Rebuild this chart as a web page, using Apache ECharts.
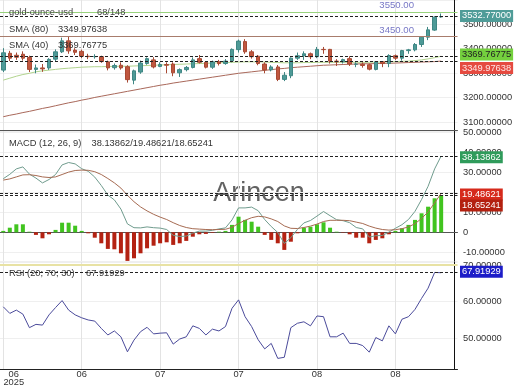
<!DOCTYPE html>
<html><head><meta charset="utf-8">
<script src="https://cdn.jsdelivr.net/npm/echarts@6/dist/echarts.min.js"></script>
<style>html,body{margin:0;padding:0;background:#fff}#c{width:520px;height:390px}</style>
</head><body><div id="c"></div>
<script>
// ---------------- DATA ----------------
const dates = ['2025-06-02','2025-06-03','2025-06-04','2025-06-05','2025-06-06',
'2025-06-09','2025-06-10','2025-06-11','2025-06-12','2025-06-13',
'2025-06-16','2025-06-17','2025-06-18','2025-06-19','2025-06-20',
'2025-06-23','2025-06-24','2025-06-25','2025-06-26','2025-06-27','2025-06-30',
'2025-07-01','2025-07-02','2025-07-03','2025-07-04',
'2025-07-07','2025-07-08','2025-07-09','2025-07-10','2025-07-11',
'2025-07-14','2025-07-15','2025-07-16','2025-07-17','2025-07-18',
'2025-07-21','2025-07-22','2025-07-23','2025-07-24','2025-07-25',
'2025-07-28','2025-07-29','2025-07-30','2025-07-31','2025-08-01',
'2025-08-04','2025-08-05','2025-08-06','2025-08-07','2025-08-08',
'2025-08-11','2025-08-12','2025-08-13','2025-08-14','2025-08-15',
'2025-08-18','2025-08-19','2025-08-20','2025-08-21','2025-08-22',
'2025-08-25','2025-08-26','2025-08-27','2025-08-28','2025-08-29',
'2025-09-01','2025-09-02','2025-09-03'];
const xTickDates = ['2025-06-02','2025-06-18','2025-07-04','2025-07-22','2025-08-07','2025-08-25'];

const openP  = [3313,3382,3374,3378,3365,3316,3322,3322,3358,3388,3433,3395,3390,3370,3368,3368,3347,3323,3333,3327,3272,3305,3340,3355,3328,3336,3338,3302,3315,3324,3360,3345,3325,3347,3340,3351,3397,3430,3388,3370,3338,3314,3326,3275,3290,3362,3372,3380,3368,3398,3398,3350,3347,3360,3337,3337,3335,3316,3347,3340,3372,3362,3393,3396,3418,3448,3477,3531];
const highP  = [3403,3392,3385,3390,3372,3336,3338,3362,3398,3446,3451,3403,3397,3380,3378,3372,3352,3340,3345,3333,3315,3352,3365,3366,3345,3345,3345,3320,3330,3365,3375,3350,3352,3355,3358,3402,3438,3440,3395,3375,3345,3333,3334,3305,3365,3385,3390,3385,3408,3408,3400,3358,3360,3370,3345,3345,3340,3350,3350,3378,3377,3396,3400,3424,3452,3490,3534,3545];
const lowP   = [3305,3350,3355,3352,3305,3300,3306,3314,3350,3383,3380,3375,3362,3358,3360,3343,3312,3315,3315,3262,3255,3298,3335,3320,3325,3300,3288,3285,3308,3320,3340,3320,3318,3332,3335,3345,3385,3380,3360,3333,3300,3308,3268,3268,3280,3355,3355,3358,3362,3380,3340,3330,3340,3330,3325,3323,3312,3312,3325,3325,3355,3352,3380,3390,3408,3436,3474,3528];
const closeP = [3384,3362,3366,3362,3316,3322,3318,3357,3388,3433,3392,3386,3370,3368,3369,3348,3322,3332,3322,3274,3310,3342,3360,3326,3336,3333,3302,3315,3324,3355,3345,3325,3347,3340,3350,3398,3432,3388,3368,3340,3314,3326,3275,3292,3362,3372,3380,3368,3398,3397,3350,3347,3356,3338,3338,3332,3317,3347,3340,3373,3362,3393,3396,3418,3448,3478,3530,3532.77];

const sma40 = [3272,3280,3288,3295,3300,3306,3310,3313,3316,3319,3321,3323,3325,3326,3327,3327,3328,3328,3329,3329,3330,3331,3332,3333,3334,3335,3336,3337,3338,3339,3340,3341,3342,3343,3344,3345,3346,3347,3347,3347,3346,3345,3344,3343,3343,3343,3344,3344,3345,3345,3345,3345,3345,3345,3345,3345,3345,3346,3346,3347,3348,3349,3350,3352,3355,3359,3364,3369.76775];
const sma80 = [3122,3128,3133,3139,3144,3150,3156,3161,3167,3173,3179,3184,3190,3195,3201,3206,3211,3216,3221,3226,3231,3236,3241,3246,3251,3255,3260,3264,3268,3272,3276,3280,3284,3288,3292,3296,3300,3303,3306,3309,3312,3315,3318,3320,3323,3325,3327,3329,3331,3333,3334,3335,3336,3337,3338,3339,3339,3340,3341,3341,3342,3343,3344,3345,3346,3347,3348,3349.97638];

const histogram = [0.7,2.3,4.0,4.0,0.3,-1.3,-3.0,-1.0,1.2,4.8,4.8,3.3,0.7,-0.5,-2.7,-5.5,-8.3,-8.5,-10.5,-14.3,-13.0,-10.5,-8.0,-6.7,-5.5,-5.0,-6.3,-5.5,-4.3,-2.2,-1.0,-0.8,-0.3,0.3,0.7,3.7,7.8,6.2,5.3,2.8,-1.3,-3.8,-5.5,-8.8,-4.7,-0.5,2.3,2.8,4.0,5.0,2.3,0.3,-0.2,-1.0,-2.7,-2.7,-5.5,-3.8,-3.0,-1.0,0.7,2.0,3.7,6.2,9.5,12.8,17.0,18.65241];
const signalLine = [26.1,26.7,27.7,28.7,28.8,28.4,27.7,27.4,27.7,28.9,30.1,30.9,31.1,31.0,30.3,28.9,26.9,24.7,22.1,18.5,15.3,12.7,10.7,9.0,7.6,6.4,4.8,3.4,2.4,1.8,1.6,1.4,1.3,1.4,1.5,2.5,4.4,6.0,7.3,8.0,7.7,6.7,5.4,3.2,2.0,1.9,2.4,3.1,4.1,5.4,6.0,6.0,6.0,5.8,5.1,4.4,3.1,2.1,1.4,1.1,1.3,1.8,2.7,4.3,6.9,10.2,14.7,19.48621];
const macdLine = [26.8,29.0,31.7,32.7,29.1,27.1,24.7,26.4,28.9,33.7,34.9,34.2,31.8,30.5,27.6,23.4,18.6,16.2,11.6,4.2,2.3,2.2,2.7,2.3,2.1,1.4,-1.5,-2.1,-1.9,-0.4,0.6,0.6,1.0,1.7,2.2,6.2,12.2,12.2,12.6,10.8,6.4,2.9,-0.1,-5.6,-2.7,1.4,4.7,5.9,8.1,10.4,8.3,6.3,5.8,4.8,2.4,1.7,-2.4,-1.7,-1.6,0.1,2.0,3.8,6.4,10.5,16.4,23.0,31.7,38.13862];

const rsi = [58.6,56.8,57.7,56.6,52.9,53.8,53.6,56.4,58.4,60.3,57.7,56.4,55.6,55.0,54.7,52.7,50.9,52.0,50.4,46.3,49.5,51.8,53.0,51.2,51.4,51.5,48.4,49.8,50.4,53.4,52.7,50.9,52.5,52.0,53.2,58.2,60.5,55.9,53.2,49.6,47.1,48.6,44.5,44.8,52.9,54.1,54.5,53.4,56.1,55.9,50.4,50.4,51.4,48.6,48.6,48.0,46.2,50.2,49.3,53.4,51.2,55.2,55.9,57.9,60.9,63.7,68.0,67.91929];

const priceLevels = [3550, 3450];
const rsiLevels = [70];
const symbolName = 'gold-ounce-usd';
const barsInfo = '68/148';

// ---------------- CHART ----------------
const FONT = '"Liberation Sans", Arial, sans-serif';
const last = a => a[a.length - 1];
const cats = dates.concat(['', '']);
const candleData = dates.map((d, i) => [openP[i], closeP[i], lowP[i], highP[i]]);
const tickIdx = xTickDates.map(d => dates.indexOf(d));
const GW = 457.5;

const chart = echarts.init(document.getElementById('c'));

function xAx(g) {
  return {
    type: 'category', gridIndex: g, data: cats, boundaryGap: true,
    axisLine: { show: true, lineStyle: { color: g === 2 ? '#222' : '#555', width: 1 } },
    axisTick: { show: false },
    axisLabel: g === 2 ? {
      interval: (i) => tickIdx.indexOf(i) > 0,
      formatter: (v) => v.slice(5, 7),
      color: '#333', fontSize: 9.3, fontFamily: FONT, margin: 1
    } : { show: false },
    splitLine: { show: true, alignWithLabel: true, interval: (i) => tickIdx.indexOf(i) >= 0,
      lineStyle: { color: '#e3e3e3', width: 1 } }
  };
}
function yAx(g, min, max, step, fmt) {
  return {
    type: 'value', gridIndex: g, position: 'right', offset: -3.5,
    min: min, max: max, splitNumber: 5, minInterval: step, maxInterval: step,
    axisLine: { show: true, lineStyle: { color: '#111', width: 1 } },
    axisTick: { show: false },
    axisLabel: { showMinLabel: false, showMaxLabel: false, color: '#333', fontSize: 9.3,
      fontFamily: FONT, margin: 9, formatter: fmt },
    splitLine: { show: true, lineStyle: { color: '#efefef', width: 1 } }
  };
}
const dash = { type: [3, 2], color: '#222', width: 1 };
const ml = (data) => ({ symbol: ['none', 'none'], silent: true, animation: false,
  label: { show: false }, data: data });

chart.setOption({
  animation: false,
  backgroundColor: '#fff',
  grid: [
    { left: 0, top: 0, width: GW, height: 130 },
    { left: 0, top: 131, width: GW, height: 130 },
    { left: 0, top: 262, width: GW, height: 107 }
  ],
  xAxis: [xAx(0), xAx(1), xAx(2)],
  yAxis: [
    yAx(0, 3067.6, 3600.4, 100, v => v >= 3600 ? '' : v.toFixed(5)),
    yAx(1, -14.35, 50.65, 10, v => v === 0 ? '0' : v.toFixed(5)),
    yAx(2, 41.6, 70.85, 10, v => v.toFixed(5))
  ],
  series: [
    { type: 'candlestick', xAxisIndex: 0, yAxisIndex: 0, data: candleData, barWidth: 4,
      itemStyle: { color: '#4e9a97', color0: '#c0573f', borderColor: '#3f8784', borderColor0: '#a84a34', borderWidth: 1 },
      markLine: ml([
        { yAxis: priceLevels[0], lineStyle: { type: 'solid', color: '#98d27c', width: 1 } },
        { yAxis: priceLevels[1], lineStyle: { type: 'solid', color: '#a87c6c', width: 1 } },
        { yAxis: last(closeP), lineStyle: dash },
        { yAxis: last(sma40), lineStyle: dash },
        { yAxis: last(sma80), lineStyle: dash }
      ]) },
    { type: 'line', xAxisIndex: 0, yAxisIndex: 0, data: sma80, symbol: 'none',
      lineStyle: { color: '#a9685a', width: 1 }, z: 1 },
    { type: 'line', xAxisIndex: 0, yAxisIndex: 0, data: sma40, symbol: 'none',
      lineStyle: { color: '#b2d48e', width: 1 }, z: 1 },
    { type: 'bar', xAxisIndex: 1, yAxisIndex: 1, barWidth: 4,
      data: histogram.map(v => ({ value: v, itemStyle: { color: v >= 0 ? '#41c41f' : '#b42212' } })) },
    { type: 'line', xAxisIndex: 1, yAxisIndex: 1, data: macdLine, symbol: 'none',
      lineStyle: { color: '#709c8e', width: 1 },
      markLine: ml([
        { yAxis: last(macdLine), lineStyle: dash },
        { yAxis: last(signalLine), lineStyle: dash },
        { yAxis: last(histogram), lineStyle: dash }
      ]) },
    { type: 'line', xAxisIndex: 1, yAxisIndex: 1, data: signalLine, symbol: 'none',
      lineStyle: { color: '#a66b52', width: 1 } },
    { type: 'line', xAxisIndex: 2, yAxisIndex: 2, data: rsi, symbol: 'none',
      lineStyle: { color: '#4b4b9b', width: 1 },
      markLine: ml([
        { yAxis: rsiLevels[0], lineStyle: { type: 'solid', color: '#e8e2a4', width: 2 } },
        { yAxis: last(rsi), lineStyle: dash }
      ]) }
  ]
});

// ---------------- overlay texts ----------------
const yPx = (axis, v) => chart.convertToPixel({ yAxisIndex: axis }, v);
const xPx = (i) => chart.convertToPixel({ xAxisIndex: 2 }, i);
const g = [];
function txt(t, x, y, opt) {
  opt = opt || {};
  g.push({ type: 'text', z: opt.z || 100, silent: true,
    style: Object.assign({ text: t, x: x, y: y, fill: '#333', font: '9.3px ' + FONT,
      align: 'left', verticalAlign: 'middle' }, opt.style || {}) });
}
function box(t, axis, v, dy, bg, fg) {
  const y = yPx(axis, v) + dy;
  txt(t, 460, y, { z: 120, style: { fill: fg, backgroundColor: bg, padding: [2, 2, 1, 2] } });
}
const f5 = v => v.toFixed(5);

// legends
txt(symbolName, 9, 12.7, { style: { fill: '#444' } });
txt(barsInfo, 97, 12.7, { style: { fill: '#444' } });
txt('SMA (80)', 9, 29.7);
txt(f5(last(sma80)), 58, 29.7);
txt('SMA (40)', 9, 45.7);
txt(f5(last(sma40)), 58, 45.7);
txt('MACD (12, 26, 9)', 9, 143.5);
txt(f5(last(macdLine)) + '/' + f5(last(signalLine)) + '/' + f5(last(histogram)), 91.5, 143.5);
txt('RSI (20; 70; 30)', 9, 273.5);
txt(f5(last(rsi)), 86, 273.5);

// level labels
priceLevels.forEach(v => txt(v.toFixed(2), 414, yPx(0, v) - 6.5,
  { style: { fill: '#7878c6', align: 'right', font: '9.6px ' + FONT } }));

// right value boxes
box(f5(last(closeP)), 0, last(closeP), -0.6, '#4f9c98', '#ffffff');
box(f5(last(sma40)), 0, last(sma40), -1.7, '#74d03e', '#222222');
box(f5(last(sma80)), 0, last(sma80), 7.0, '#e54a40', '#ffe6e6');
box(f5(last(macdLine)), 1, last(macdLine), 1.2, '#2f9b5b', '#ffffff');
box(f5(last(signalLine)), 1, last(signalLine), 1.2, '#d62a1c', '#ffffff');
box(f5(last(histogram)), 1, last(histogram), 10.6, '#b3200f', '#ffffff');
box(f5(last(rsi)), 2, last(rsi), -1.0, '#1c1cc8', '#ffffff');

// first x label with year
const x0 = xPx(0) + 10.5;
txt(dates[0].slice(5, 7), x0, 374.3, { style: { align: 'center' } });
txt(dates[0].slice(0, 4), x0, 382.7, { style: { align: 'center' } });

// watermark
g.push({ type: 'text', z: -10, silent: true,
  style: { text: 'Arincen', x: 259, y: 193.5, align: 'center', verticalAlign: 'middle',
    font: '27px ' + FONT, fill: 'rgba(70,70,70,0.85)' } });

chart.setOption({ graphic: { elements: g } });
</script></body></html>
